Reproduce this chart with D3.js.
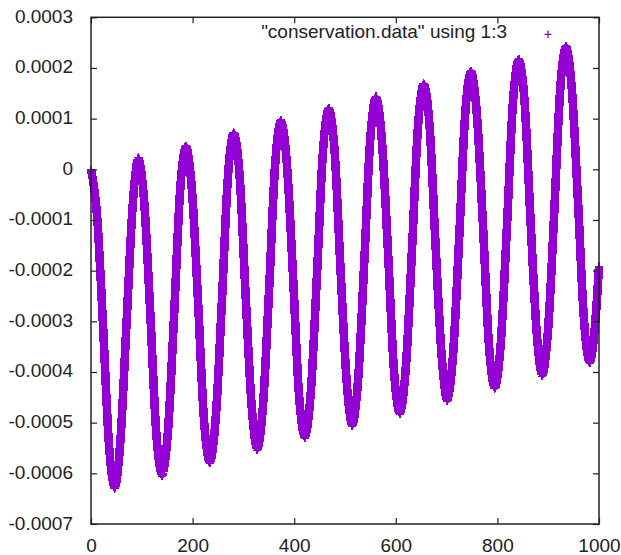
<!DOCTYPE html>
<html>
<head>
<meta charset="utf-8">
<script src="https://cdn.jsdelivr.net/npm/d3@7"></script>
<style>
body { margin: 0; background: #fff; }
text { font-family: "Liberation Sans", Arial, sans-serif; font-size: 19px; fill: #222; }
</style>
</head>
<body>
<div id="chart"></div>
<script>
// column 1 (step) and column 3
var steps = [
  0, 12, 24, 35, 47, 58, 70, 82, 93, 105, 117, 128, 140, 152, 164, 175, 187,
  199, 211, 222, 234, 246, 258, 269, 281, 293, 304, 316, 327, 339, 351, 362, 374,
  386, 398, 409, 421, 433, 445, 456, 468, 480, 491, 503, 514, 526, 538, 549, 561,
  573, 585, 596, 608, 620, 632, 643, 655, 667, 678, 690, 701, 713, 725, 736, 748,
  760, 772, 783, 795, 807, 819, 830, 842, 854, 865, 877, 888, 900, 912, 923, 935,
  947, 959, 970, 982, 994, 1000
];
var conservation = [
  0, -0.000092, -0.000315, -0.000538, -0.000630, -0.000534, -0.000303, -0.000072, 0.000024,
  -0.000068, -0.000291, -0.000513, -0.000605, -0.000510, -0.000279, -0.000049, 0.000047,
  -0.000045, -0.000267, -0.000488, -0.000580, -0.000484, -0.000254, -0.000023, 0.000073,
  -0.000019, -0.000241, -0.000463, -0.000555, -0.000460, -0.000229, 0.000002, 0.000097,
  0.000005, -0.000217, -0.000438, -0.000530, -0.000435, -0.000205, 0.000026, 0.000121,
  0.000029, -0.000193, -0.000415, -0.000507, -0.000412, -0.000182, 0.000049, 0.000144,
  0.000052, -0.000170, -0.000391, -0.000483, -0.000387, -0.000157, 0.000074, 0.000170,
  0.000078, -0.000144, -0.000365, -0.000457, -0.000362, -0.000131, 0.000100, 0.000195,
  0.000103, -0.000119, -0.000341, -0.000433, -0.000338, -0.000108, 0.000123, 0.000218,
  0.000126, -0.000096, -0.000317, -0.000409, -0.000313, -0.000083, 0.000148, 0.000244,
  0.000152, -0.000070, -0.000291, -0.000383, -0.000285, -0.000190
];
var xTicks = [0, 200, 400, 600, 800, 1000];
var yTicks = [-0.0007, -0.0006, -0.0005, -0.0004, -0.0003, -0.0002, -0.0001, 0, 0.0001, 0.0002, 0.0003];
var yTickLabels = ["-0.0007", "-0.0006", "-0.0005", "-0.0004", "-0.0003", "-0.0002", "-0.0001", "0", "0.0001", "0.0002", "0.0003"];
var legendLabel = '"conservation.data" using 1:3';

function drawChart() {
    var width = 621;
    var height = 555;
    var box = {left: 91, right: 599, top: 17.3, bottom: 524};
    var purple = "#9400d3";

    var xScale = d3.scaleLinear()
    .domain([0, 1000])
    .range([box.left, box.right]);

    var yScale = d3.scaleLinear()
    .domain([-0.0007, 0.0003])
    .range([box.bottom, box.top]);

    var svg = d3.select("#chart").append("svg")
    .attr("width", width)
    .attr("height", height);

    var data = steps.map(function(s, i) { return {x: s, y: conservation[i]}; });

    var line = d3.line()
    .x(function(d) { return xScale(d.x); })
    .y(function(d) { return yScale(d.y); })
    .curve(d3.curveMonotoneX);

    // thick band of "+" points: sweep the curve along both arms of the marker
    var arm = [-3.5, -2.5, -1.5, -0.5, 0.5, 1.5, 2.5, 3.5];
    var offsets = arm.map(function(o) { return [o, 0]; })
        .concat(arm.map(function(o) { return [0, o]; }));

    svg.append("g")
    .attr("shape-rendering", "crispEdges")
    .selectAll("path")
    .data(offsets)
    .enter().append("path")
    .attr("transform", function(o) { return "translate(" + o[0] + "," + o[1] + ")"; })
    .attr("d", line(data))
    .attr("fill", "none")
    .attr("stroke", purple)
    .attr("stroke-width", 1.6);

    // axes, ticks pointing inward and mirrored
    var xAxisB = svg.append("g")
    .attr("transform", "translate(0," + box.bottom + ")")
    .call(d3.axisBottom(xScale).tickValues(xTicks).tickSize(-6).tickFormat(d3.format("d")));
    var xAxisT = svg.append("g")
    .attr("transform", "translate(0," + box.top + ")")
    .call(d3.axisTop(xScale).tickValues(xTicks).tickSize(-6).tickFormat(""));
    var yAxisL = svg.append("g")
    .attr("transform", "translate(" + box.left + ",0)")
    .call(d3.axisLeft(yScale).tickValues(yTicks).tickSize(-6)
        .tickFormat(function(d, i) { return yTickLabels[i]; }));
    var yAxisR = svg.append("g")
    .attr("transform", "translate(" + box.right + ",0)")
    .call(d3.axisRight(yScale).tickValues(yTicks).tickSize(-6).tickFormat(""));

    [xAxisB, xAxisT, yAxisL, yAxisR].forEach(function(g) {
        g.select(".domain").remove();
        g.selectAll(".tick line").attr("stroke", "#222").attr("stroke-width", 1.2);
        g.attr("font-family", null).attr("font-size", null);
    });

    xAxisB.selectAll(".tick text")
    .attr("y", 28)
    .attr("dy", null)
    .attr("fill", "#222");

    yAxisL.selectAll(".tick text")
    .attr("x", -18)
    .attr("dy", "5px")
    .attr("fill", "#222");

    svg.append("rect")
    .attr("x", box.left)
    .attr("y", box.top)
    .attr("width", box.right - box.left)
    .attr("height", box.bottom - box.top)
    .attr("fill", "none")
    .attr("stroke", "#222")
    .attr("stroke-width", 1.5);

    // key
    svg.append("text")
    .attr("x", 507)
    .attr("y", 38.3)
    .style("text-anchor", "end")
    .text(legendLabel);

    svg.append("path")
    .attr("transform", "translate(548,34.3)")
    .attr("d", "M-3.5,0H3.5M0,-3.8V3.8")
    .attr("stroke", purple)
    .attr("stroke-width", 1.3)
    .attr("fill", "none");
}

drawChart();
</script>
</body>
</html>
